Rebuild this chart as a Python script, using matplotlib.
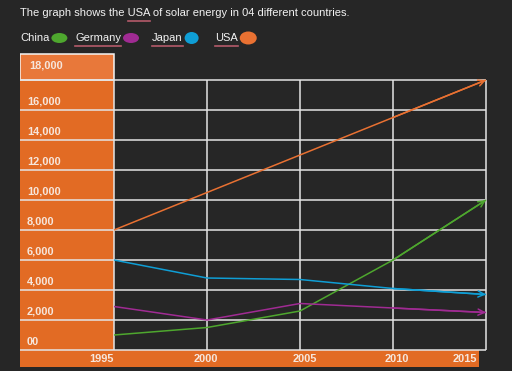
import matplotlib
matplotlib.use("Agg")
import matplotlib.pyplot as plt
from matplotlib.patches import Rectangle, Ellipse
from matplotlib.lines import Line2D

# ---- data ----
years = [1995, 2000, 2005, 2010, 2015]
china = [1000, 1500, 2600, 6000, 10000]
germany = [2900, 2000, 3100, 2800, 2500]
japan = [6000, 4800, 4700, 4100, 3700]
usa = [8000, 10500, 13000, 15500, 18000]
series_names = ["China", "Germany", "Japan", "USA"]
y_ticks = [0, 2000, 4000, 6000, 8000, 10000, 12000, 14000, 16000, 18000]
y_tick_labels = ["00", "2,000", "4,000", "6,000", "8,000", "10,000", "12,000",
                 "14,000", "16,000", "18,000"]
title = "The graph shows the USA of solar energy in 04 different countries."

# ---- style ----
W, H = 512, 371
BG = "#262626"
ORANGE_COL = "#E26B24"
ORANGE_BOX = "#E8783A"
GRID = "#E4E4E4"
colors = {"China": "#4EA72E", "Germany": "#A02B93", "Japan": "#0F9ED5", "USA": "#E97132"}
UNDER = "#B45A6A"
FONT = "Liberation Sans"
TFS = 8.0

fig = plt.figure(figsize=(W / 100, H / 100), dpi=100, facecolor=BG)

# axes placed in pixel geometry
ax_l, ax_r, ax_t, ax_b = 20, 490, 52, 368
ax = fig.add_axes([ax_l / W, 1 - ax_b / H, (ax_r - ax_l) / W, (ax_b - ax_t) / H])
ax.set_facecolor(BG)
for s in ax.spines.values():
    s.set_visible(False)
ax.set_xticks([])
ax.set_yticks([])

px_per_year = 18.6
px_per_val = 30 / 2000
x0_px, y0_px = 114, 350
xmin = years[0] - (x0_px - ax_l) / px_per_year
xmax = years[0] + (ax_r - x0_px) / px_per_year
ymin = -(ax_b - y0_px) / px_per_val
ymax = (y0_px - ax_t) / px_per_val
ax.set_xlim(xmin, xmax)
ax.set_ylim(ymin, ymax)

col_top = (y0_px - 54) / px_per_val
bar_bot = -(367 - y0_px) / px_per_val
bar_right = years[0] + (479 - x0_px) / px_per_year

# orange column and bottom bar
ax.add_patch(Rectangle((xmin, 0), years[0] - xmin, col_top, facecolor=ORANGE_COL,
                       edgecolor="none", zorder=0.2))
ax.add_patch(Rectangle((xmin, bar_bot), bar_right - xmin, -bar_bot, facecolor=ORANGE_COL,
                       edgecolor="none", zorder=0.2))
ax.add_patch(Rectangle((xmin, y_ticks[-1]), years[0] - xmin, col_top - y_ticks[-1],
                       facecolor=ORANGE_BOX, edgecolor="#F4F4F4", linewidth=1.1, zorder=0.3))

# grid
ax.hlines(y_ticks, xmin, years[-1], colors=GRID, linewidth=1.1, zorder=0.5)
ax.vlines(years, 0, y_ticks[-1], colors=GRID, linewidth=1.1, zorder=0.5)

# series
data = {"China": china, "Germany": germany, "Japan": japan, "USA": usa}
for name in series_names:
    vals = data[name]
    c = colors[name]
    ax.plot(years, vals, color=c, linewidth=1.1, zorder=2, solid_capstyle="butt")
    ax.annotate("", xy=(years[-1], vals[-1]), xytext=(years[-2], vals[-2]),
                arrowprops=dict(arrowstyle="->,head_length=0.45,head_width=0.22",
                                color=c, lw=1.1, shrinkA=0, shrinkB=0), zorder=3)

# y labels
for v, lab in zip(y_ticks, y_tick_labels):
    dy = 14 if v == y_ticks[-1] else 8
    dx = 9 if v == y_ticks[-1] else 7
    ax.annotate(lab, xy=(xmin, v), xytext=(dx, dy), textcoords="offset pixels",
                ha="left", va="center", fontsize=7.9, fontweight="bold",
                color="#F6E6DC", family=FONT, zorder=4)

# x labels
x_offsets = {1995: (0, "right"), 2000: (-1, "center"), 2005: (5, "center"),
             2010: (4, "center"), 2015: (-21, "center")}
for yr in years:
    dx, ha = x_offsets[yr]
    ax.annotate(str(yr), xy=(yr, 0), xytext=(dx, -9), textcoords="offset pixels",
                ha=ha, va="center", fontsize=7.9, fontweight="bold",
                color="#F6E6DC", family=FONT, zorder=4)

# title & legend (figure pixel coords)
def fx(x):
    return x / W

def fy(y):
    return 1 - y / H

TXT = "#F2F2F2"
fig.text(fx(20), fy(13), title, ha="left", va="center", fontsize=TFS, color=TXT, family=FONT)

fig.canvas.draw()
r = fig.canvas.get_renderer()

def text_width(s):
    t = fig.text(0, 0, s, fontsize=TFS, family=FONT)
    w = t.get_window_extent(r).width
    t.remove()
    return w

pre = text_width("The graph shows the ")
uw = text_width("USA")
fig.add_artist(Line2D([fx(20 + pre), fx(20 + pre + uw)], [fy(21), fy(21)],
                      color=UNDER, linewidth=1.2))

legend_x = {"China": 20, "Germany": 75, "Japan": 152, "USA": 215}
ell_size = {"China": (16, 10), "Germany": (16, 10), "Japan": (14, 12), "USA": (17, 13)}
ly = 38
for name in series_names:
    x = legend_x[name]
    fig.text(fx(x), fy(ly), name, ha="left", va="center", fontsize=TFS, color=TXT, family=FONT)
    w = text_width(name)
    if name != "China":
        fig.add_artist(Line2D([fx(x), fx(x + w)], [fy(46), fy(46)], color=UNDER, linewidth=1.2))
    ew, eh = ell_size[name]
    fig.add_artist(Ellipse((fx(x + w + 2 + ew / 2), fy(ly)), ew / W, eh / H,
                           transform=fig.transFigure, facecolor=colors[name], edgecolor="none"))

fig.savefig("out.png", dpi=100, facecolor=BG)
